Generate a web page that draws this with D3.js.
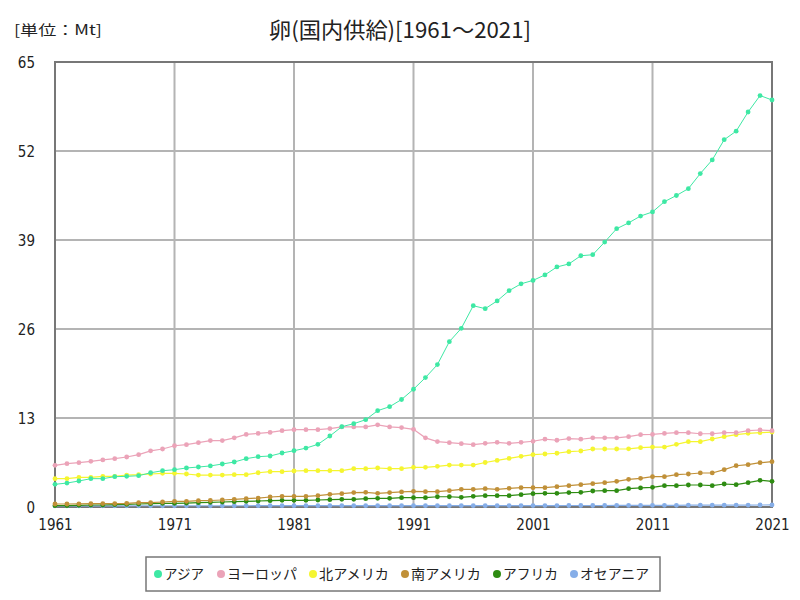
<!DOCTYPE html>
<html><head><meta charset="utf-8">
<script src="https://cdn.jsdelivr.net/npm/d3@7"></script>
<style>body{margin:0;background:#fff;font-family:"Noto Sans CJK JP","Noto Sans",sans-serif;}</style>
</head><body><svg id="c" width="800" height="600"></svg>
<script>
const years = d3.range(1961, 2022);
const seriesNames = ["アジア","ヨーロッパ","北アメリカ","南アメリカ","アフリカ","オセアニア"];
const colors = ["#3ee8a4","#eba3b8","#f5f530","#c09038","#2e8c12","#86aee8"];
const yTicks = [0,13,26,39,52,65];
const xTicks = [1961,1971,1981,1991,2001,2011,2021];

const asia = [3.31,3.5,3.8,4.14,4.14,4.43,4.48,4.57,5.0,5.3,5.45,5.7,5.84,6.0,6.28,6.57,7.06,7.35,7.45,7.89,8.22,8.6,9.15,10.37,11.73,12.17,12.75,14.07,14.65,15.7,17.2,18.9,20.8,24.15,26.1,29.4,28.97,30.1,31.6,32.6,33.1,33.9,35.06,35.5,36.7,36.85,38.7,40.65,41.5,42.5,43.1,44.6,45.5,46.5,48.7,50.7,53.65,54.9,57.7,60.1,59.45];
const europe = [6.09,6.33,6.47,6.67,6.87,7.06,7.3,7.64,8.2,8.47,8.95,9.1,9.4,9.7,9.7,10.1,10.6,10.75,10.9,11.15,11.3,11.3,11.3,11.45,11.7,11.7,11.7,12.0,11.7,11.6,11.35,10.1,9.55,9.4,9.25,9.1,9.3,9.45,9.3,9.45,9.6,9.9,9.75,10.0,9.9,10.1,10.1,10.1,10.27,10.56,10.6,10.75,10.85,10.85,10.7,10.7,10.85,10.85,11.15,11.25,11.15];
const northAmerica = [4.14,4.14,4.33,4.33,4.48,4.48,4.67,4.72,4.82,4.92,4.92,4.82,4.67,4.67,4.67,4.72,4.72,5.0,5.16,5.16,5.26,5.3,5.3,5.3,5.3,5.6,5.6,5.7,5.6,5.6,5.8,5.8,5.94,6.13,6.13,6.13,6.5,6.8,7.1,7.4,7.65,7.74,7.85,8.08,8.18,8.47,8.47,8.47,8.5,8.66,8.76,8.76,9.15,9.54,9.54,9.93,10.27,10.56,10.76,10.85,10.95];
const southAmerica = [0.44,0.44,0.46,0.48,0.5,0.5,0.54,0.63,0.63,0.73,0.83,0.83,0.92,0.95,1.02,1.12,1.22,1.31,1.46,1.56,1.56,1.56,1.66,1.85,1.95,2.1,2.15,2.0,2.1,2.2,2.29,2.24,2.24,2.39,2.58,2.58,2.68,2.58,2.73,2.82,2.82,2.82,2.97,3.12,3.26,3.41,3.55,3.75,4.04,4.19,4.43,4.43,4.72,4.82,4.97,4.97,5.45,6.03,6.18,6.47,6.62];
const africa = [0.2,0.2,0.24,0.29,0.29,0.34,0.38,0.44,0.48,0.54,0.54,0.58,0.63,0.68,0.73,0.78,0.83,0.88,0.92,0.97,0.97,0.97,1.02,1.07,1.12,1.12,1.22,1.27,1.27,1.36,1.36,1.36,1.5,1.5,1.41,1.56,1.66,1.66,1.66,1.8,1.95,2.0,2.0,2.1,2.15,2.34,2.39,2.39,2.68,2.78,2.87,3.12,3.12,3.21,3.21,3.12,3.36,3.26,3.55,3.9,3.75];
const oceania = [0.16,0.16,0.16,0.17,0.17,0.17,0.17,0.18,0.18,0.18,0.18,0.18,0.18,0.18,0.18,0.18,0.18,0.19,0.19,0.19,0.19,0.19,0.19,0.19,0.19,0.19,0.2,0.2,0.2,0.2,0.2,0.2,0.2,0.2,0.2,0.2,0.2,0.2,0.21,0.21,0.21,0.21,0.21,0.22,0.22,0.22,0.22,0.23,0.23,0.23,0.24,0.25,0.25,0.26,0.26,0.27,0.27,0.28,0.28,0.29,0.3];
const seriesValues = [asia, europe, northAmerica, southAmerica, africa, oceania];

const svg = d3.select("#c");
const m = {l:55, r:772, t:62, b:507};
const x = d3.scaleLinear().domain([1961,2021]).range([m.l, m.r]);
const y = d3.scaleLinear().domain([0,65]).range([m.b, m.t]);

// grid
svg.append("g").selectAll("line").data(xTicks).join("line")
  .attr("x1", d=>x(d)).attr("x2", d=>x(d)).attr("y1", m.t).attr("y2", m.b)
  .attr("stroke","#b4b4b4").attr("stroke-width",2);
svg.append("g").selectAll("line").data(yTicks).join("line")
  .attr("x1", m.l).attr("x2", m.r).attr("y1", d=>y(d)).attr("y2", d=>y(d))
  .attr("stroke","#b4b4b4").attr("stroke-width",2);
// frame
svg.append("rect").attr("x",m.l).attr("y",m.t).attr("width",m.r-m.l).attr("height",m.b-m.t)
  .attr("fill","none").attr("stroke","#777").attr("stroke-width",2);

// axes
const xa = svg.append("g").attr("transform",`translate(0,${m.b})`)
  .call(d3.axisBottom(x).tickValues(xTicks).tickFormat(d3.format("d")).tickSize(0).tickPadding(12));
const ya = svg.append("g").attr("transform",`translate(${m.l},0)`)
  .call(d3.axisLeft(y).tickValues(yTicks).tickSize(0).tickPadding(20));
[xa,ya].forEach(a=>{a.select(".domain").remove();
  a.selectAll("text").attr("font-size",15).attr("fill","#222").attr("font-family","'Liberation Sans Narrow','DejaVu Sans Condensed',sans-serif");});
ya.selectAll("text").attr("dy","0.35em");

// lines
const line = d3.line().x((d,i)=>x(years[i])).y(d=>y(d));
const order = [5,4,3,2,1,0];
order.forEach(si=>{
  const vals = seriesValues[si];
  const g = svg.append("g");
  g.append("path").datum(vals).attr("d",line).attr("fill","none")
    .attr("stroke",colors[si]).attr("stroke-width",si===0?1:1.2);
  g.selectAll("circle").data(vals).join("circle")
    .attr("cx",(d,i)=>x(years[i])).attr("cy",d=>y(d)).attr("r",2.4).attr("fill",colors[si]);
});

// titles
svg.append("text").attr("x",400).attr("y",38).attr("text-anchor","middle")
  .attr("font-size",22).attr("fill","#222")
  .attr("textLength",262).attr("lengthAdjust","spacingAndGlyphs").text("卵(国内供給)[1961～2021]");
svg.append("text").attr("x",14).attr("y",35)
  .attr("font-size",14).attr("fill","#222")
  .attr("textLength",88).attr("lengthAdjust","spacingAndGlyphs").text("[単位：Mt]");

// legend
const lg = svg.append("g");
lg.append("rect").attr("x",146).attr("y",557).attr("width",514).attr("height",34)
  .attr("fill","#fff").attr("stroke","#777").attr("stroke-width",1.5);
const legendCx = [158,221,313,405,497,574];
const legendW = [40,70,70,70,55,69];
seriesNames.forEach((n,i)=>{
  lg.append("circle").attr("cx",legendCx[i]).attr("cy",574).attr("r",4).attr("fill",colors[i]);
  lg.append("text").attr("x",legendCx[i]+6).attr("y",579).attr("font-size",14).attr("fill","#222")
    .attr("textLength",legendW[i]).attr("lengthAdjust","spacingAndGlyphs").text(n);
});
</script></body></html>
